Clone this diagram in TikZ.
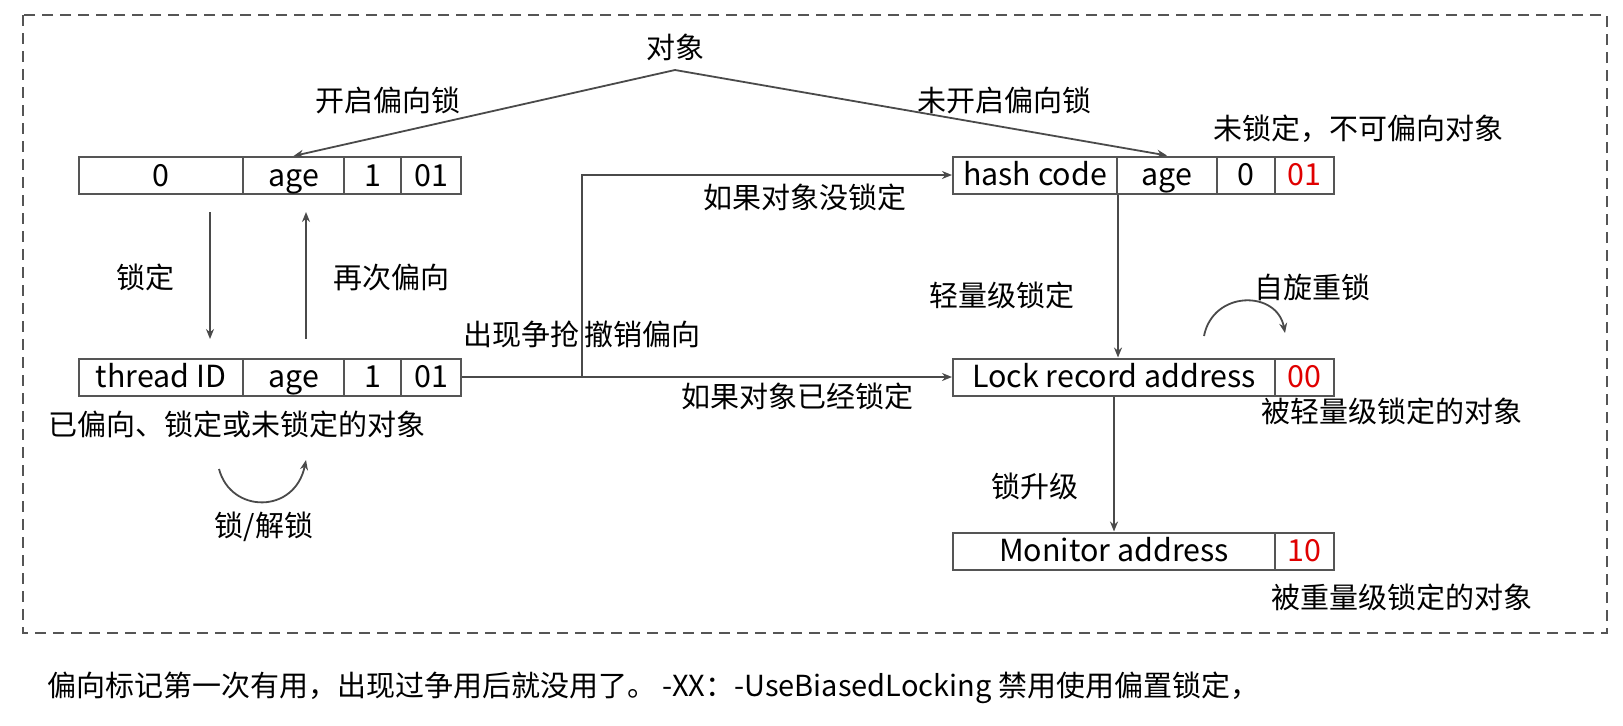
\documentclass[tikz,border=0pt]{standalone}
\usepackage{fontspec}
\setmainfont{Noto Sans CJK SC}
\usetikzlibrary{arrows.meta}
\definecolor{lc}{HTML}{4A4A4A}
\definecolor{bc}{HTML}{555555}
\definecolor{rd}{HTML}{E00000}
\tikzset{
  lbl/.style={inner sep=0pt, font=\fontsize{14.5}{17}\selectfont},
  cell/.style={draw=bc, line width=1pt, minimum height=18.5pt, inner sep=0pt,
    text height=11.5pt, text depth=1pt, font=\fontsize{15.2}{18}\selectfont},
  conn/.style={draw=lc, line width=0.9pt},
  arr/.style={conn, -{Stealth[length=5pt,width=4pt]}},
}
\begin{document}
\begin{tikzpicture}[x=0.5pt,y=-0.5pt]
\fill[white] (0,0) rectangle (1623,725);
\useasboundingbox (0,0) rectangle (1623,725);
% dashed frame
\draw[bc, line width=1pt, dash pattern=on 5.5pt off 3.5pt] (23,15) rectangle (1607,633);

% top object
\node[lbl] (obj) at (675,47) {对象};
\coordinate (apex) at (675,70);
\node[lbl] (l1) at (388,100) {开启偏向锁};
\node[lbl] (l2) at (1004,100) {未开启偏向锁};
\node[lbl] (l3) at (1358,129) {未锁定，不可偏向对象};

% box A
\node[cell, minimum width=82pt] (a0) at (161,175.5) {0};
\node[cell, minimum width=50.5pt] (a1) at (293.5,175.5) {age};
\node[cell, minimum width=28.5pt] (a2) at (372.5,175.5) {1};
\node[cell, minimum width=30pt] (a3) at (431,175.5) {01};

% box B
\node[cell, minimum width=82pt] (b0) at (161,377) {thread ID};
\node[cell, minimum width=50.5pt] (b1) at (293.5,377) {age};
\node[cell, minimum width=28.5pt] (b2) at (372.5,377) {1};
\node[cell, minimum width=30pt] (b3) at (431,377) {01};
\node[lbl, anchor=west] (l4) at (48,424) {已偏向、锁定或未锁定的对象};

% hash box
\node[cell, minimum width=82pt] (h0) at (1035,175) {hash code};
\node[cell, minimum width=50pt] (h1) at (1167,175) {age};
\node[cell, minimum width=29pt] (h2) at (1246,175) {0};
\node[cell, minimum width=29.5pt, text=rd] (h3) at (1304.5,175) {01};

% lock record box
\node[cell, minimum width=161pt] (k0) at (1114,377) {Lock record address};
\node[cell, minimum width=29.5pt, text=rd] (k1) at (1304.5,377) {00};
\node[lbl] (l5) at (1392,411) {被轻量级锁定的对象};

% monitor box
\node[cell, minimum width=161pt] (m0) at (1114,551) {Monitor address};
\node[cell, minimum width=29.5pt, text=rd] (m1) at (1304.5,551) {10};
\node[lbl] (l6) at (1402,597) {被重量级锁定的对象};

% connectors from object
\draw[arr] (apex) -- (a1.north);
\draw[arr] (apex) -- (h1.north);

% lock / rebias
\coordinate (d1) at (210,212);
\coordinate (d2) at (210,339);
\coordinate (u1) at (306,339);
\coordinate (u2) at (306,212);
\draw[arr] (d1) -- (d2);
\draw[arr] (u1) -- (u2);
\node[lbl] (l7) at (145,277) {锁定};
\node[lbl] (l8) at (391,277) {再次偏向};

% lock/unlock arc
\coordinate (c1) at (219,469);
\coordinate (c2) at (306,460);
\draw[arr] (c1) .. controls (231,514) and (295,514) .. (c2);
\node[lbl] (l9) at (264,527) {锁/解锁};

% contention
\coordinate (split) at (582,377);
\draw[conn] (b3.east) -- (split);
\draw[arr] (split) |- (h0.west);
\draw[arr] (split) -- (k0.west);
\node[lbl] (l10) at (521,334) {出现争抢};
\node[lbl] (l11) at (642,334) {撤销偏向};
\node[lbl] (l12) at (805,197) {如果对象没锁定};
\node[lbl] (l13) at (797,396) {如果对象已经锁定};

% lightweight
\draw[arr] (h0.south east) -- (h0.south east |- k0.north);
\node[lbl] (l14) at (1002,295) {轻量级锁定};
\coordinate (s1) at (1204,336);
\coordinate (s2) at (1285,333);
\draw[arr] (s1) .. controls (1213,290) and (1277,290) .. (s2);
\node[lbl] (l15) at (1312,287) {自旋重锁};

% heavyweight
\draw[arr] (k0.south) -- (m0.north);
\node[lbl] (l16) at (1035,486) {锁升级};

% bottom note
\node[lbl, anchor=west] (note) at (47,688) {偏向标记第一次有用，出现过争用后就没用了。 -XX：-UseBiasedLocking 禁用使用偏置锁定，};
\end{tikzpicture}
\end{document}
